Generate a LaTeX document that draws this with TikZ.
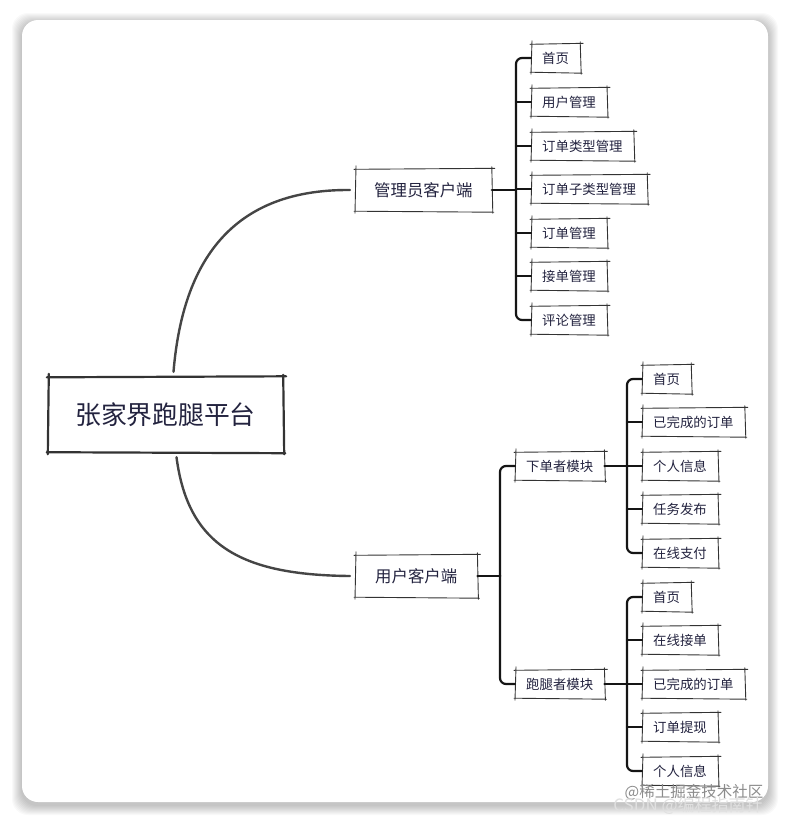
\documentclass[tikz,border=0pt]{standalone}
\usepackage{fontspec}
\setmainfont{Noto Sans CJK SC}
\definecolor{ink}{HTML}{23233F}
\definecolor{boxline}{HTML}{333333}
\definecolor{curvegray}{HTML}{454545}
\definecolor{connc}{HTML}{151515}
\newcommand\sketchbox[2][0.9pt]{%
 \draw[skl,line width=#1] ([shift={(-1,0.5)}]#2.north west) -- ([shift={(3,-0.5)}]#2.north east);
 \draw[skl,line width=#1] ([shift={(0,-2)}]#2.north east) -- ([shift={(1,2)}]#2.south east);
 \draw[skl,line width=#1] ([shift={(2,1)}]#2.south east) -- ([shift={(-1,0)}]#2.south west);
 \draw[skl,line width=#1] ([shift={(0,2)}]#2.south west) -- ([shift={(1,-3)}]#2.north west);}
\begin{document}
\begin{tikzpicture}[x=1pt,y=-1pt,
 txt/.style={text=ink, font=\fontsize{13.4}{15}\selectfont, inner xsep=11pt, inner ysep=0pt, minimum height=28pt, anchor=west},
 midbox/.style={txt, font=\fontsize{16.4}{18}\selectfont, minimum height=42pt, inner xsep=19pt},
 conn/.style={line width=2.2pt, draw=connc, line cap=round, rounded corners=6pt},
 curve/.style={line width=2.4pt, draw=curvegray, line cap=round},
 skl/.style={draw=boxline, line cap=round}]
% background and card
\useasboundingbox (0,0) rectangle (790,823);
\fill[white] (0,0) rectangle (790,823);
\foreach \i in {1,...,10}{
  \fill[black,opacity=0.022,rounded corners=16pt] (22-\i,20-\i+3) rectangle (768+\i,802+\i+3);
}
\fill[white,rounded corners=16pt] (22,20) rectangle (768,802);

% root
\node[text=ink, font=\fontsize{25.8}{28}\selectfont, minimum width=235pt, minimum height=75pt, inner sep=0pt] (root) at (165.5,414.5) {张家界跑腿平台};
\sketchbox[2.2pt]{root}

% level 1
\node[midbox] (admin) at (355,190) {管理员客户端};
\node[midbox, inner xsep=20pt] (user) at (355,576) {用户客户端};
\sketchbox{admin}
\sketchbox{user}

% admin leaves
\node[txt] (a1) at (531,58) {首页};
\node[txt] (a2) at (531,102) {用户管理};
\node[txt] (a3) at (531,146) {订单类型管理};
\node[txt] (a4) at (531,189) {订单子类型管理};
\node[txt] (a5) at (531,233) {订单管理};
\node[txt] (a6) at (531,276) {接单管理};
\node[txt] (a7) at (531,320) {评论管理};

% user modules
\node[txt] (m1) at (515,466) {下单者模块};
\node[txt] (m2) at (515,684) {跑腿者模块};

% module 1 leaves
\node[txt] (b1) at (642,379) {首页};
\node[txt] (b2) at (642,422) {已完成的订单};
\node[txt] (b3) at (642,466) {个人信息};
\node[txt] (b4) at (642,509) {任务发布};
\node[txt] (b5) at (642,553) {在线支付};

% module 2 leaves
\node[txt] (c1) at (642,597) {首页};
\node[txt] (c2) at (642,640) {在线接单};
\node[txt] (c3) at (642,684) {已完成的订单};
\node[txt] (c4) at (642,727) {订单提现};
\node[txt] (c5) at (642,771) {个人信息};

\foreach \n in {a1,a2,a3,a4,a5,a6,a7,m1,m2,b1,b2,b3,b4,b5,c1,c2,c3,c4,c5}{\sketchbox{\n}}

% curves from root
\draw[curve] ([shift={(8,-5)}]root.north) .. controls (182,270) and (225,189) .. ([xshift=-5pt]admin.west);
\draw[curve] ([shift={(11,5)}]root.south) .. controls (188,545) and (240,575) .. ([xshift=-5pt]user.west);

% admin bracket
\draw[conn] (admin.east) -- ++(24,0);
\draw[conn] (a1.west) -- ++(-15,0) |- (a7.west);
\foreach \n in {a2,a3,a4,a5,a6}{\draw[conn] (\n.west) -- ++(-15,0);}

% user bracket
\draw[conn] (user.east) -- ++(23,0);
\draw[conn] (m1.west) -- ++(-15,0) |- (m2.west);

% module 1 bracket
\draw[conn] (m1.east) -- ++(23,0);
\draw[conn] (b1.west) -- ++(-15,0) |- (b5.west);
\foreach \n in {b2,b3,b4}{\draw[conn] (\n.west) -- ++(-15,0);}

% module 2 bracket
\draw[conn] (m2.east) -- ++(23,0);
\draw[conn] (c1.west) -- ++(-15,0) |- (c5.west);
\foreach \n in {c2,c3,c4}{\draw[conn] (\n.west) -- ++(-15,0);}

% watermarks
\node[text=black!45, font=\fontsize{15.5}{17}\selectfont, inner sep=0pt] (wm1) at (694,792) {@稀土掘金技术社区};
\node[text=black!12, font=\fontsize{17}{19}\selectfont, inner sep=0pt] (wm2) at (688,806) {CSDN @编程指南针};
\end{tikzpicture}
\end{document}
